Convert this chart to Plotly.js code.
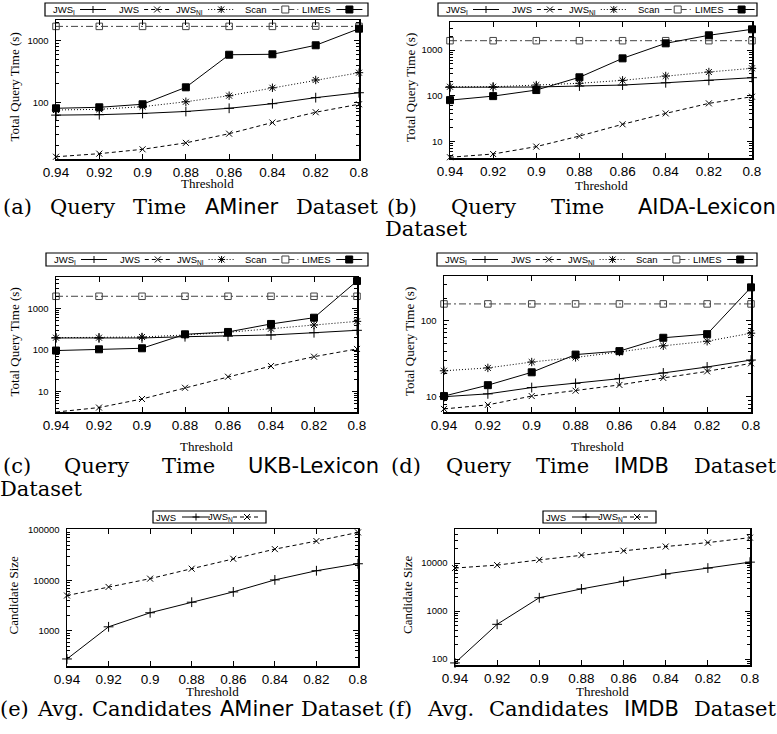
<!DOCTYPE html>
<html><head><meta charset="utf-8">
<script src="https://cdn.plot.ly/plotly-3.0.1.min.js"></script>
<style>html,body{margin:0;padding:0;background:#fff}#chart{width:777px;height:734px}</style>
</head><body><div id="chart"></div>
<script>
// ---------- data ----------
const thresholds = [0.94, 0.92, 0.9, 0.88, 0.86, 0.84, 0.82, 0.8];
const thresholdLabels = ["0.94", "0.92", "0.9", "0.88", "0.86", "0.84", "0.82", "0.8"];

// (a) AMiner query time (s)
const aminerJWSI  = [62, 63, 66, 71, 80, 95, 119, 143];
const aminerJWS   = [13.1, 14.7, 17.3, 22, 31, 47, 69, 93];
const aminerJWSNI = [75, 77, 85, 102, 128, 172, 230, 302];
const aminerScan  = [1700, 1700, 1700, 1700, 1700, 1700, 1720, 1700];
const aminerLIMES = [80, 83, 93, 175, 590, 600, 840, 1560];

// (b) AIDA-Lexicon query time (s)
const aidaJWSI  = [153, 153, 155, 163, 171, 192, 217, 248];
const aidaJWS   = [4.5, 5.3, 7.7, 13.1, 23.7, 41, 68, 95];
const aidaJWSNI = [157, 157, 171, 187, 217, 270, 330, 398];
const aidaScan  = [1600, 1600, 1600, 1600, 1600, 1600, 1600, 1600];
const aidaLIMES = [80, 98, 133, 253, 657, 1400, 2100, 2840];

// (c) UKB-Lexicon query time (s)
const ukbJWSI  = [195, 195, 195, 209, 215, 230, 261, 298];
const ukbJWS   = [3.2, 4.1, 6.6, 12.3, 22.7, 41, 69, 106];
const ukbJWSNI = [198, 198, 206, 230, 267, 326, 400, 490];
const ukbScan  = [1970, 1970, 1970, 1970, 1970, 1970, 1970, 1970];
const ukbLIMES = [97, 104, 110, 239, 272, 424, 600, 4600];

// (d) IMDB query time (s)
const imdbJWSI  = [10, 10.9, 13.2, 15, 17.3, 20.6, 24.7, 30.5];
const imdbJWS   = [6.9, 7.8, 10.2, 12, 14.3, 17.7, 21.6, 27.6];
const imdbJWSNI = [22, 24, 28.7, 33, 39, 47, 54, 69];
const imdbScan  = [168, 168, 168, 168, 168, 168, 168, 168];
const imdbLIMES = [10.2, 14.2, 21, 36, 40, 60, 67, 278];

// (e) AMiner avg candidates
const aminerCandJWS  = [277, 1200, 2280, 3690, 5900, 10200, 15500, 21300];
const aminerCandJWSN = [5000, 7400, 10800, 17000, 26700, 41500, 60000, 89000];

// (f) IMDB avg candidates
const imdbCandJWS  = [83, 530, 1900, 2900, 4180, 5940, 7900, 10500];
const imdbCandJWSN = [7900, 9100, 11700, 14700, 18100, 22200, 26800, 34000];

// ---------- styles / layout helpers ----------
const W = 777, H = 734;
const px = x => x / W;
const py = y => 1 - y / H;

const STY = {
  JWSI:  {dash: 'solid', symbol: 'cross-thin-open', size: 7, color: '#000', glyph: 'plus'},
  JWS:   {dash: '4px,3px', symbol: 'x-thin-open', size: 6, color: '#000', glyph: 'x'},
  JWSNI: {dash: '1px,2px', symbol: 'asterisk-open', size: 7, color: '#000', glyph: 'star'},
  Scan:  {dash: '7px,3px,2px,3px', symbol: 'square-open', size: 6.5, color: '#444', glyph: 'sqo'},
  LIMES: {dash: 'solid', symbol: 'square', size: 7, color: '#000', glyph: 'sqf'}
};

const panels = [
  {box: [56, 359, 20, 159], yr: [1.081, 3.334], ytitle: 'Total Query Time (s)', ytx: 14, xty: 184,
   series: [[aminerJWSI, STY.JWSI], [aminerJWS, STY.JWS], [aminerJWSNI, STY.JWSNI], [aminerScan, STY.Scan], [aminerLIMES, STY.LIMES]]},
  {box: [450, 752, 22, 158], yr: [0.637, 3.613], ytitle: 'Total Query Time (s)', ytx: 410, xty: 185,
   series: [[aidaJWSI, STY.JWSI], [aidaJWS, STY.JWS], [aidaJWSNI, STY.JWSNI], [aidaScan, STY.Scan], [aidaLIMES, STY.LIMES]]},
  {box: [56, 357, 277, 412], yr: [0.506, 3.759], ytitle: 'Total Query Time (s)', ytx: 14, xty: 446,
   series: [[ukbJWSI, STY.JWSI], [ukbJWS, STY.JWS], [ukbJWSNI, STY.JWSNI], [ukbScan, STY.Scan], [ukbLIMES, STY.LIMES]]},
  {box: [444, 751, 276, 412], yr: [0.798, 2.594], ytitle: 'Total Query Time (s)', ytx: 409, xty: 446,
   series: [[imdbJWSI, STY.JWSI], [imdbJWS, STY.JWS], [imdbJWSNI, STY.JWSNI], [imdbScan, STY.Scan], [imdbLIMES, STY.LIMES]]},
  {box: [67, 358, 529, 666], yr: [2.303, 5.017], ytitle: 'Candidate Size', ytx: 13, xty: 691,
   series: [[aminerCandJWS, STY.JWSI], [aminerCandJWSN, STY.JWS]]},
  {box: [455, 750, 529, 665], yr: [1.876, 4.712], ytitle: 'Candidate Size', ytx: 407, xty: 691,
   series: [[imdbCandJWS, STY.JWSI], [imdbCandJWSN, STY.JWS]]}
];

const traces = [];
const layout = {
  width: W, height: H, margin: {l: 0, r: 0, t: 0, b: 0},
  paper_bgcolor: '#fff', plot_bgcolor: '#fff', showlegend: false,
  shapes: [], annotations: []
};
const serif = 'Liberation Serif, Times New Roman, serif';
const sans = 'Liberation Sans, Arial, sans-serif';

panels.forEach((p, i) => {
  const n = i + 1, xs = n === 1 ? '' : n;
  const [x0, x1, y0, y1] = p.box;
  layout['xaxis' + xs] = {
    domain: [px(x0), px(x1)], anchor: 'y' + xs, range: [0.94, 0.8],
    tickmode: 'array', tickvals: thresholds, ticktext: thresholdLabels,
    ticks: 'inside', ticklen: 5, tickcolor: '#000', showline: true, linecolor: '#000', linewidth: 1.5,
    mirror: 'ticks', showgrid: false, zeroline: false, ticklabelstandoff: 0,
    tickfont: {family: sans, size: 13.5, color: '#000'}
  };
  layout['yaxis' + xs] = {
    domain: [py(y1), py(y0)], anchor: 'x' + xs, type: 'log', range: p.yr,
    tick0: 0, dtick: 1, tickformat: 'd',
    ticks: 'inside', ticklen: 5, tickcolor: '#000', showline: true, linecolor: '#000', linewidth: 1.5,
    mirror: 'ticks', showgrid: false, zeroline: false, ticklabelstandoff: 4,
    minor: {ticks: 'inside', ticklen: 3, dtick: 'D1', tickcolor: '#000', showgrid: false},
    tickfont: {family: sans, size: 9.5, color: '#000'}
  };
  p.series.forEach(([vals, st]) => {
    traces.push({
      type: 'scatter', mode: 'lines+markers', x: thresholds, y: vals,
      xaxis: 'x' + xs, yaxis: 'y' + xs, cliponaxis: false,
      line: {color: st.color, width: 1, dash: st.dash},
      marker: {symbol: st.symbol, size: st.size, color: st.color, line: {color: st.color, width: 1}}
    });
  });
  layout.annotations.push({xref: 'paper', yref: 'paper', x: px(p.ytx), y: py((y0 + y1) / 2 - 2),
    text: p.ytitle, textangle: -90, showarrow: false, xanchor: 'center', yanchor: 'middle',
    font: {family: serif, size: 13, color: '#000'}});
  layout.annotations.push({xref: 'paper', yref: 'paper', x: px((x0 + x1) / 2), y: py(p.xty),
    text: 'Threshold', showarrow: false, xanchor: 'center', yanchor: 'middle', borderpad: 0,
    font: {family: serif, size: 13, color: '#000'}});
});

// ---------- keys (legend boxes) ----------
function glyph(kind, cx, cy, color) {
  const L = (xa, ya, xb, yb) => `M ${px(xa)} ${py(ya)} L ${px(xb)} ${py(yb)} `;
  const base = {xref: 'paper', yref: 'paper', line: {color: color, width: 1}};
  if (kind === 'plus' || kind === 'star') {
    let d = L(cx - 3.5, cy, cx + 3.5, cy) + L(cx, cy - 3.5, cx, cy + 3.5);
    if (kind === 'star') d += L(cx - 3, cy - 3, cx + 3, cy + 3) + L(cx - 3, cy + 3, cx + 3, cy - 3);
    layout.shapes.push(Object.assign({type: 'path', path: d}, base));
  } else if (kind === 'x') {
    layout.shapes.push(Object.assign({type: 'path', path: L(cx - 3, cy - 3, cx + 3, cy + 3) + L(cx - 3, cy + 3, cx + 3, cy - 3)}, base));
  } else {
    layout.shapes.push(Object.assign({type: 'rect', x0: px(cx - 3.5), x1: px(cx + 3.5), y0: py(cy + 3.5), y1: py(cy - 3.5),
      fillcolor: kind === 'sqf' ? color : '#fff'}, base));
  }
}
function key(box, items) {
  layout.shapes.push({type: 'rect', xref: 'paper', yref: 'paper', x0: px(box[0]), x1: px(box[1]),
    y0: py(box[3]), y1: py(box[2]), line: {color: '#000', width: 1.2}, fillcolor: '#fff'});
  const cy = (box[2] + box[3]) / 2;
  items.forEach(it => {
    layout.annotations.push({xref: 'paper', yref: 'paper', x: px(it.tr), y: py(cy), xanchor: 'right', yanchor: 'middle',
      text: it.label, showarrow: false, borderpad: 0, borderwidth: 0, font: {family: sans, size: 9.5, color: '#000'}});
    layout.shapes.push({type: 'line', xref: 'paper', yref: 'paper', x0: px(it.cx - it.h), x1: px(it.cx + it.h),
      y0: py(cy), y1: py(cy), line: {color: it.st.color, width: 1, dash: it.st.dash}});
    glyph(it.st.glyph, it.cx, cy, it.st.color);
  });
}
const keyNames5 = ['JWS<sub>I</sub>', 'JWS', 'JWS<sub>NI</sub>', 'Scan', 'LIMES'];
const keyStyles5 = [STY.JWSI, STY.JWS, STY.JWSNI, STY.Scan, STY.LIMES];
function key5(box, c0, step) {
  key(box, keyNames5.map((lab, k) => ({label: lab, st: keyStyles5[k], cx: c0 + step * k, tr: c0 + step * k - 18, h: 13})));
}
key5([45, 368, 3, 16], 93, 64.1);
key5([438, 757, 3, 16], 486, 63.9);
key5([46, 368, 253, 266], 94, 63.8);
key5([437, 757, 253, 266], 485, 63.8);
function key2(bx, by) {
  key([bx, bx + 113, by, by + 12], [
    {label: 'JWS', st: STY.JWSI, cx: bx + 43, tr: bx + 22.5, h: 14},
    {label: 'JWS<sub>N</sub>', st: STY.JWS, cx: bx + 94, tr: bx + 80, h: 14}
  ]);
}
key2(153, 511);
key2(543, 511);

// ---------- captions (justified word by word like the LaTeX subcaptions) ----------
const CAP_SIZE = 21;
const capSerif = 'DejaVu Serif';
const capSans = 'DejaVu Sans';
const ctx = document.createElement('canvas').getContext('2d');
function wordWidth(w) {
  ctx.font = `${CAP_SIZE}px "${w.sans ? capSans : capSerif}"`;
  return ctx.measureText(w.t).width;
}
function capLine(words, left, right, y) {
  const widths = words.map(wordWidth);
  const total = widths.reduce((a, b) => a + b, 0);
  const gap = words.length > 1 ? (right - left - total) / (words.length - 1) : 0;
  let x = left;
  words.forEach((w, k) => {
    const txt = w.sans ? `<span style="font-family:'${capSans}',sans-serif">${w.t}</span>` : w.t;
    layout.annotations.push({xref: 'paper', yref: 'paper', x: px(x), y: py(y), xanchor: 'left', yanchor: 'middle',
      text: txt, showarrow: false, borderpad: 0, borderwidth: 0,
      font: {family: capSerif + ', serif', size: CAP_SIZE, color: '#000'}});
    x += widths[k] + gap;
  });
}
const S = t => ({t: t});
const F = t => ({t: t, sans: true});
capLine([S('(a)'), S('Query'), S('Time'), F('AMiner'), S('Dataset')], 3, 378, 207);
capLine([S('(b)'), S('Query'), S('Time'), F('AIDA-Lexicon')], 387, 776, 207);
capLine([S('Dataset')], 385, 776, 229);
capLine([S('(c)'), S('Query'), S('Time'), F('UKB-Lexicon')], 3, 379, 466);
capLine([S('Dataset')], 0, 380, 489);
capLine([S('(d)'), S('Query'), S('Time'), F('IMDB'), S('Dataset')], 391, 776, 466);
capLine([S('(e)'), S('Avg.'), S('Candidates'), F('AMiner'), S('Dataset')], 0, 383, 709);
capLine([S('(f)'), S('Avg.'), S('Candidates'), F('IMDB'), S('Dataset')], 388, 776, 709);

Plotly.newPlot('chart', traces, layout, {displayModeBar: false, staticPlot: true});
</script></body></html>
